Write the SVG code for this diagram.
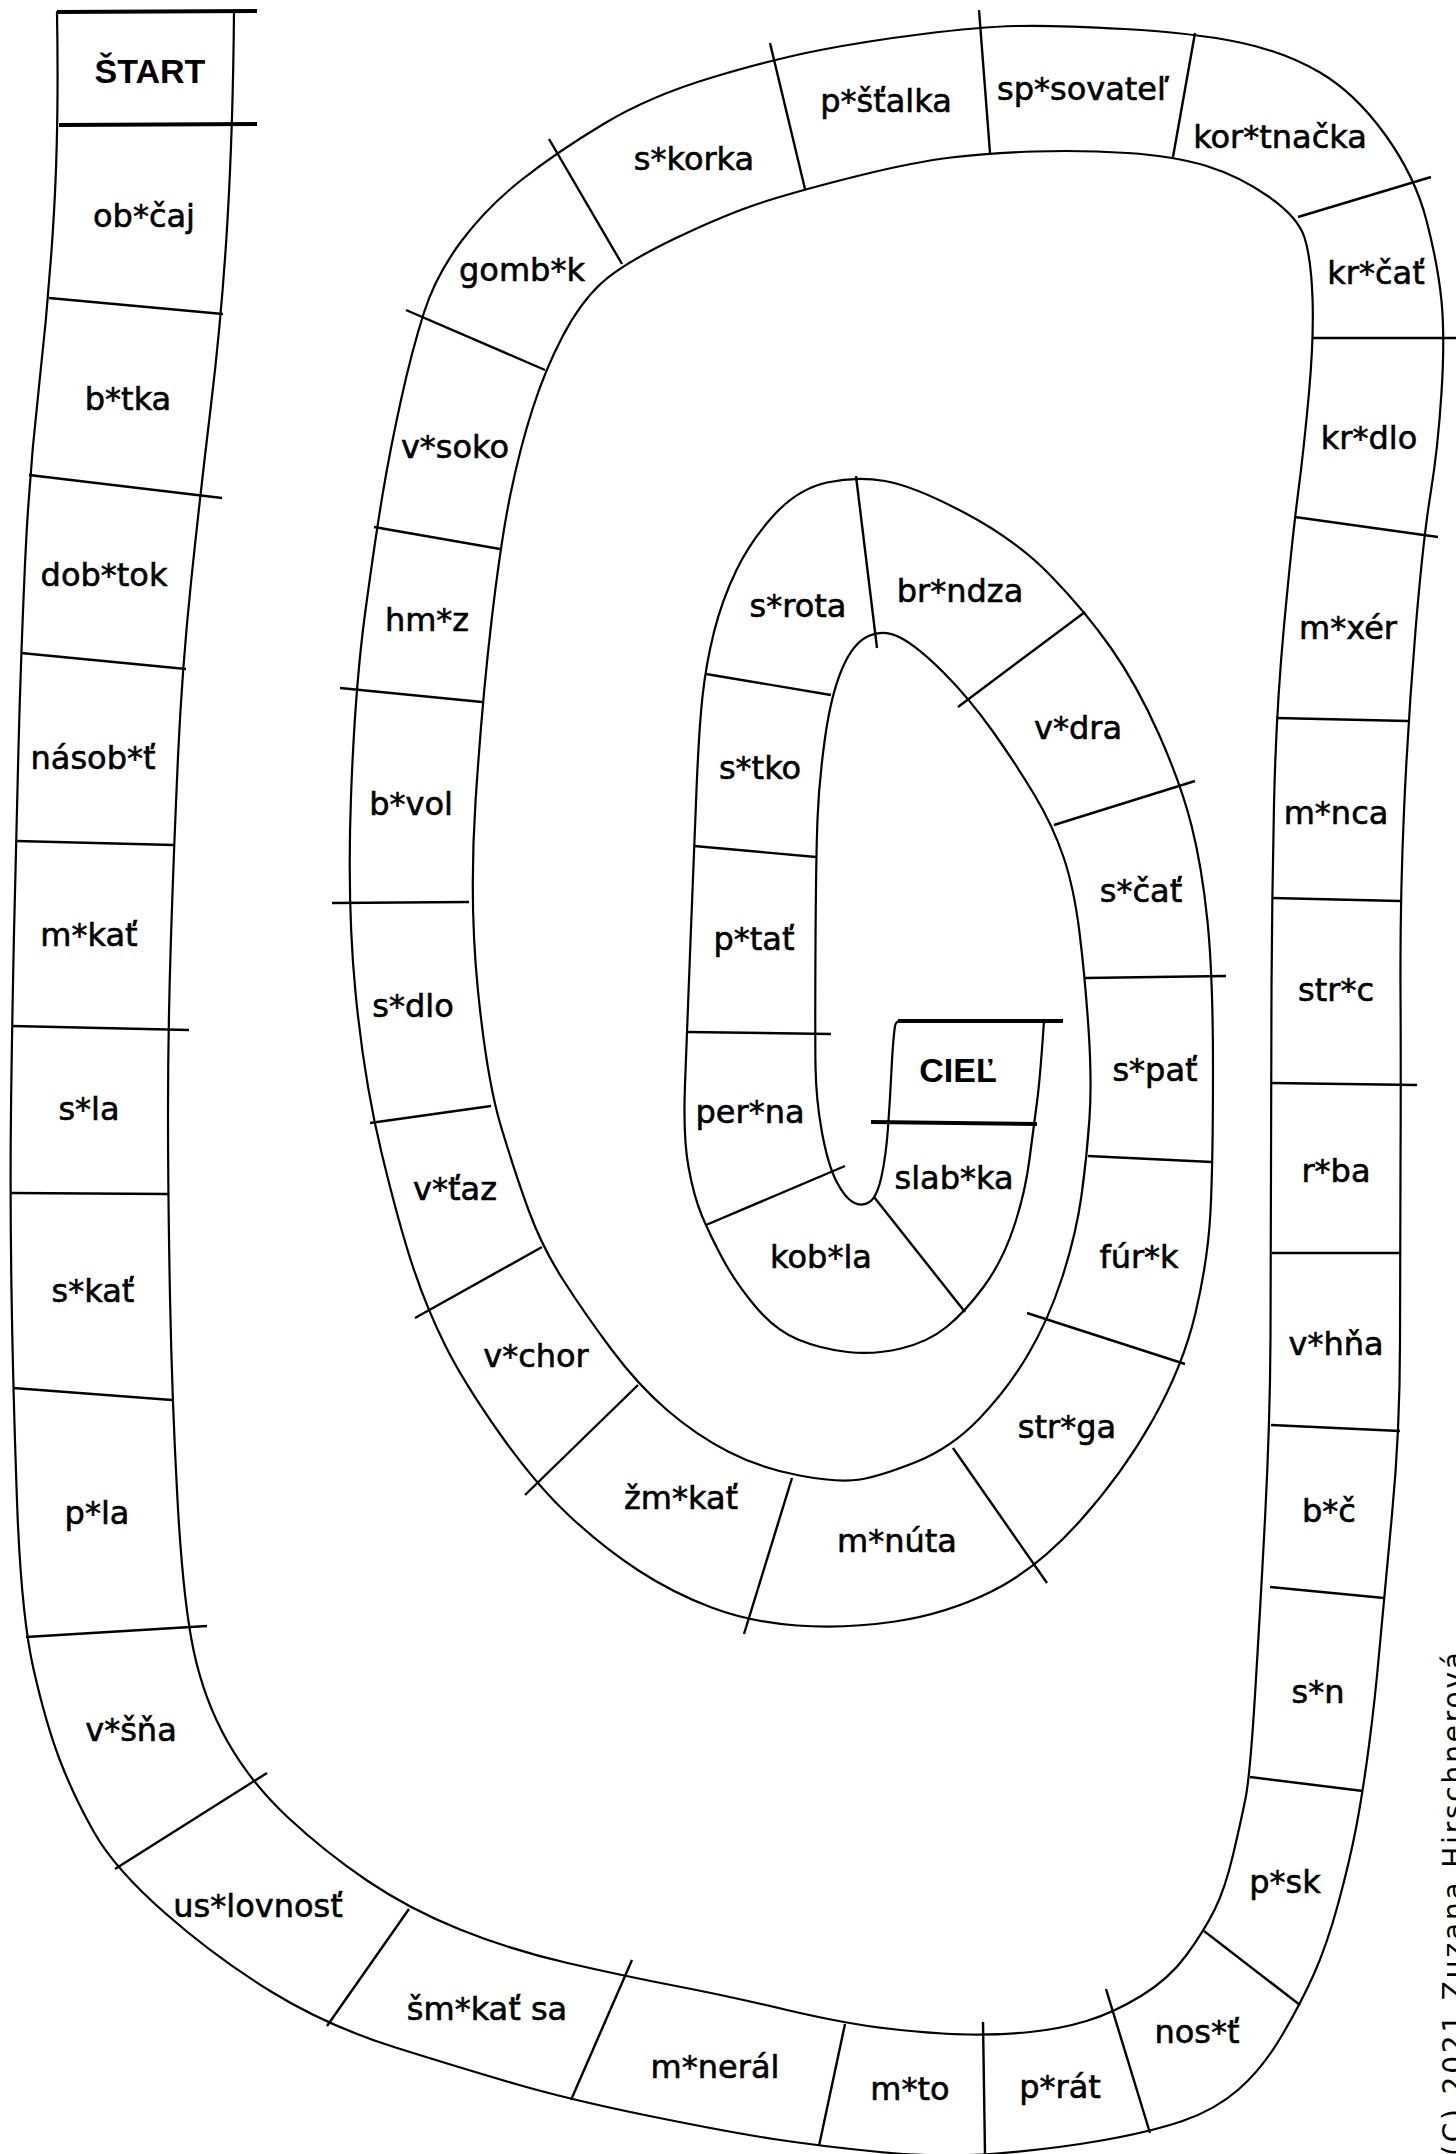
<svg xmlns="http://www.w3.org/2000/svg" width="1456" height="2154" viewBox="0 0 1456 2154">
<style>
.edge{fill:none;stroke:#000;stroke-width:2.2;stroke-linecap:round;stroke-linejoin:round}
.sep{fill:none;stroke:#000;stroke-width:2.4;stroke-linecap:butt}
.thick{fill:none;stroke:#000;stroke-width:4;stroke-linecap:butt}
.w{font-family:"DejaVu Sans","Liberation Sans",sans-serif;font-size:32px;fill:#000;stroke:#000;stroke-width:0.6;text-anchor:middle}
.b{font-family:"Liberation Sans","DejaVu Sans",sans-serif;font-size:34px;font-weight:bold;fill:#000;text-anchor:middle}
.c{font-family:"DejaVu Sans","Liberation Sans",sans-serif;font-size:28px;fill:#000}
</style>
<rect x="0" y="0" width="1456" height="2154" fill="#fff"/>
<g id="connectors">
<path id="outer-edge" class="edge" d="M57,12 Q59,126 54,212 Q49,298 39,386.5 Q29,475 25,564 Q21,653 18.5,747 Q16,841 14,933.5 Q12,1026 11,1110 Q10,1194 11.5,1291 Q13,1388 17,1501 Q21,1614 33.5,1669 Q46,1724 60,1760.5 Q74,1797 94.5,1833 Q115,1869 165,1913 Q215,1957 271,1991.5 Q327,2026 395.5,2047.5 Q464,2069 517.5,2084.5 Q571,2100 649.5,2116 Q728,2132 773.5,2139 Q819,2146 879.5,2152 Q940,2158 996.5,2153.5 Q1053,2149 1101.5,2140.5 Q1150,2132 1182.5,2121 Q1215,2110 1238.5,2089.5 Q1262,2069 1281,2037 Q1300,2005 1313.5,1975 Q1327,1945 1338.5,1902.5 Q1350,1860 1356.5,1825.5 Q1363,1791 1369,1745.5 Q1375,1700 1379.5,1649 Q1384,1598 1392,1514.5 Q1400,1431 1400,1342 Q1400,1253 1400.5,1166.5 Q1401,1080 1400.5,990.5 Q1400,901 1404,811 Q1408,721 1415.5,630.5 Q1423,540 1430.5,494 Q1438,448 1441.5,392.5 Q1445,337 1441.5,301 Q1438,265 1426.5,220.5 Q1415,176 1385,134.5 Q1355,93 1320,72.5 Q1285,52 1240,42.5 Q1195,33 1124,29 Q1053,25 1016,26 Q979,27 923,34 Q867,41 820.5,50 Q774,59 712,77.5 Q650,96 603.5,124 Q557,152 522,179.5 Q487,207 461.5,241 Q436,275 424,312.5 Q412,350 401,400 Q390,450 382.5,495 Q375,540 365,614 Q355,688 351,796.5 Q347,905 355.5,992.5 Q364,1080 381.5,1152.5 Q399,1225 413,1267 Q427,1309 445.5,1346 Q464,1383 500,1434 Q536,1485 570,1516.5 Q604,1548 638.5,1570.5 Q673,1593 711.5,1607.5 Q750,1622 797,1625.5 Q844,1629 895,1621.5 Q946,1614 991.5,1591.5 Q1037,1569 1080,1521 Q1123,1473 1153,1419.5 Q1183,1366 1195.5,1313 Q1208,1260 1210.5,1211.5 Q1213,1163 1213,1069.5 Q1213,976 1207.5,921.5 Q1202,867 1191.5,825.5 Q1181,784 1159,734.5 Q1137,685 1111,648 Q1085,611 1050.5,575.5 Q1016,540 965,513 Q914,486 885,481 Q856,476 827,482.5 Q798,489 774.5,514.5 Q751,540 736.5,570 Q722,600 714,632 Q706,664 702.5,696.5 Q699,729 696.5,789.5 Q694,850 690.5,941 Q687,1032 685,1084.5 Q683,1137 688.5,1167 Q694,1197 702,1216 Q710,1235 722.5,1258.5 Q735,1282 755,1306 Q775,1330 798,1339.5 Q821,1349 847.5,1352 Q874,1355 901,1348.5 Q928,1342 946.5,1327 Q965,1312 983.5,1287 Q1002,1262 1013.5,1228 Q1025,1194 1029.5,1159 Q1034,1124 1037,1102 Q1040,1080 1044,1021"/>
<path id="inner-edge" class="edge" d="M234,12 Q233,126 227.5,220 Q222,314 211,405 Q200,496 191,582.5 Q182,669 178,757 Q174,845 171,937 Q168,1029 168,1111.5 Q168,1194 170,1297 Q172,1400 177.5,1500 Q183,1600 193.5,1650 Q204,1700 227.5,1741.5 Q251,1783 288,1817.5 Q325,1852 367,1880.5 Q409,1909 460,1929.5 Q511,1950 567.5,1963 Q624,1976 676,1986 Q728,1996 787,2010 Q846,2024 891.5,2029 Q937,2034 968.5,2034.5 Q1000,2035 1030,2032 Q1060,2029 1086.5,2021 Q1113,2013 1141,1996 Q1169,1979 1186.5,1955 Q1204,1931 1214.5,1910 Q1225,1889 1233,1855 Q1241,1821 1245.5,1798.5 Q1250,1776 1255,1695 Q1260,1614 1265,1519 Q1270,1424 1270.5,1338 Q1271,1252 1271,1166 Q1271,1080 1271.5,989 Q1272,898 1274,805 Q1276,712 1284,626 Q1292,540 1298,494 Q1304,448 1309,392.5 Q1314,337 1312.5,297.5 Q1311,258 1304.5,237.5 Q1298,217 1268.5,196.5 Q1239,176 1206.5,166 Q1174,156 1127.5,153 Q1081,150 1034.5,151.5 Q988,153 951,157.5 Q914,162 859.5,175.5 Q805,189 766.5,201 Q728,213 675,238.5 Q622,264 601,283.5 Q580,303 562.5,336.5 Q545,370 532.5,409 Q520,448 510.5,494 Q501,540 491.5,621 Q482,702 475.5,802 Q469,902 478,991 Q487,1080 501,1126.5 Q515,1173 528.5,1210 Q542,1247 563.5,1280.5 Q585,1314 611.5,1349.5 Q638,1385 667,1410 Q696,1435 728,1451.5 Q760,1468 799.5,1475.5 Q839,1483 860,1479.5 Q881,1476 916,1462 Q951,1448 979,1419 Q1007,1390 1027.5,1355.5 Q1048,1321 1062,1278 Q1076,1235 1081.5,1195.5 Q1087,1156 1089.5,1118 Q1092,1080 1088.5,1028.5 Q1085,977 1079.5,932.5 Q1074,888 1063.5,857 Q1053,826 1034.5,795 Q1016,764 992.5,731 Q969,698 943.5,672.5 Q918,647 901,638 Q884,629 868.5,636 Q853,643 842,669 Q831,695 825,738 Q819,781 817.5,819 Q816,857 815.5,944.5 Q815,1032 815.5,1066 Q816,1100 822,1132.5 Q828,1165 836.5,1181.5 Q845,1198 853.5,1202.5 Q862,1207 869.5,1202 Q877,1197 881.5,1176.5 Q886,1156 888,1128 Q890,1100 891.5,1070 Q893,1040 895,1026 Q896,1021 900,1021"/>
<line class="thick" x1="57" y1="12" x2="257" y2="11"/>
<line class="thick" x1="59" y1="125" x2="257" y2="124"/>
<line class="sep" x1="49" y1="298" x2="223" y2="314"/>
<line class="sep" x1="29" y1="475" x2="222" y2="498"/>
<line class="sep" x1="21" y1="653" x2="186" y2="669"/>
<line class="sep" x1="16" y1="841" x2="174" y2="845"/>
<line class="sep" x1="12" y1="1026" x2="189" y2="1030"/>
<line class="sep" x1="10" y1="1193" x2="168" y2="1194"/>
<line class="sep" x1="13" y1="1388" x2="172" y2="1400"/>
<line class="sep" x1="26" y1="1637" x2="207" y2="1626"/>
<line class="sep" x1="267" y1="1773" x2="115" y2="1869"/>
<line class="sep" x1="409" y1="1909" x2="327" y2="2026"/>
<line class="sep" x1="632" y1="1960" x2="571" y2="2100"/>
<line class="sep" x1="845" y1="2024" x2="819" y2="2146"/>
<line class="sep" x1="983" y1="2022" x2="985" y2="2154"/>
<line class="sep" x1="1106" y1="1989" x2="1150" y2="2133"/>
<line class="sep" x1="1204" y1="1931" x2="1300" y2="2005"/>
<line class="sep" x1="1250" y1="1777" x2="1363" y2="1791"/>
<line class="sep" x1="1270" y1="1587" x2="1384" y2="1598"/>
<line class="sep" x1="1271" y1="1425" x2="1400" y2="1431"/>
<line class="sep" x1="1272" y1="1253" x2="1400" y2="1253"/>
<line class="sep" x1="1271" y1="1083" x2="1417" y2="1085"/>
<line class="sep" x1="1272" y1="898" x2="1400" y2="901"/>
<line class="sep" x1="1276" y1="718" x2="1408" y2="721"/>
<line class="sep" x1="1295" y1="517" x2="1438" y2="537"/>
<line class="sep" x1="1312" y1="338" x2="1456" y2="338"/>
<line class="sep" x1="1298" y1="217" x2="1431" y2="177"/>
<line class="sep" x1="1195" y1="33" x2="1173" y2="157"/>
<line class="sep" x1="979" y1="10" x2="990" y2="153"/>
<line class="sep" x1="770" y1="43" x2="805" y2="189"/>
<line class="sep" x1="549" y1="139" x2="622" y2="264"/>
<line class="sep" x1="406" y1="310" x2="545" y2="370"/>
<line class="sep" x1="374" y1="527" x2="500" y2="549"/>
<line class="sep" x1="340" y1="688" x2="482" y2="702"/>
<line class="sep" x1="332" y1="903" x2="469" y2="902"/>
<line class="sep" x1="370" y1="1123" x2="491" y2="1106"/>
<line class="sep" x1="415" y1="1318" x2="542" y2="1247"/>
<line class="sep" x1="525" y1="1495" x2="638" y2="1385"/>
<line class="sep" x1="792" y1="1478" x2="744" y2="1634"/>
<line class="sep" x1="953" y1="1448" x2="1047" y2="1583"/>
<line class="sep" x1="1027" y1="1313" x2="1185" y2="1364"/>
<line class="sep" x1="1088" y1="1156" x2="1212" y2="1162"/>
<line class="sep" x1="1085" y1="978" x2="1226" y2="976"/>
<line class="sep" x1="1054" y1="825" x2="1195" y2="781"/>
<line class="sep" x1="958" y1="707" x2="1085" y2="612"/>
<line class="sep" x1="856" y1="476" x2="877" y2="648"/>
<line class="sep" x1="706" y1="674" x2="831" y2="695"/>
<line class="sep" x1="694" y1="846" x2="816" y2="857"/>
<line class="sep" x1="687" y1="1032" x2="831" y2="1034"/>
<line class="sep" x1="706" y1="1225" x2="845" y2="1166"/>
<line class="sep" x1="874" y1="1197" x2="965" y2="1312"/>
<line class="thick" x1="871" y1="1122" x2="1037" y2="1124"/>
<line class="thick" x1="898" y1="1021" x2="1063" y2="1021"/>
</g>
<g id="n-start"><text class="b" x="150" y="83">ŠTART</text></g>
<g id="n01"><text class="w" x="144" y="227">ob*čaj</text></g>
<g id="n02"><text class="w" x="128" y="410">b*tka</text></g>
<g id="n03"><text class="w" x="104" y="586">dob*tok</text></g>
<g id="n04"><text class="w" x="93" y="769">násob*ť</text></g>
<g id="n05"><text class="w" x="89" y="946">m*kať</text></g>
<g id="n06"><text class="w" x="89" y="1120">s*la</text></g>
<g id="n07"><text class="w" x="93" y="1302">s*kať</text></g>
<g id="n08"><text class="w" x="97" y="1524">p*la</text></g>
<g id="n09"><text class="w" x="131" y="1741">v*šňa</text></g>
<g id="n10"><text class="w" x="258" y="1917">us*lovnosť</text></g>
<g id="n11"><text class="w" x="487" y="2020">šm*kať sa</text></g>
<g id="n12"><text class="w" x="715" y="2078">m*nerál</text></g>
<g id="n13"><text class="w" x="910" y="2100">m*to</text></g>
<g id="n14"><text class="w" x="1060" y="2098">p*rát</text></g>
<g id="n15"><text class="w" x="1197" y="2043">nos*ť</text></g>
<g id="n16"><text class="w" x="1285" y="1893">p*sk</text></g>
<g id="n17"><text class="w" x="1318" y="1703">s*n</text></g>
<g id="n18"><text class="w" x="1329" y="1522">b*č</text></g>
<g id="n19"><text class="w" x="1336" y="1355">v*hňa</text></g>
<g id="n20"><text class="w" x="1336" y="1182">r*ba</text></g>
<g id="n21"><text class="w" x="1336" y="1001">str*c</text></g>
<g id="n22"><text class="w" x="1336" y="824">m*nca</text></g>
<g id="n23"><text class="w" x="1348" y="639">m*xér</text></g>
<g id="n24"><text class="w" x="1369" y="449">kr*dlo</text></g>
<g id="n25"><text class="w" x="1376" y="284">kr*čať</text></g>
<g id="n26"><text class="w" x="1280" y="148">kor*tnačka</text></g>
<g id="n27"><text class="w" x="1083" y="100">sp*sovateľ</text></g>
<g id="n28"><text class="w" x="886" y="112">p*šťalka</text></g>
<g id="n29"><text class="w" x="694" y="170">s*korka</text></g>
<g id="n30"><text class="w" x="522" y="281">gomb*k</text></g>
<g id="n31"><text class="w" x="455" y="458">v*soko</text></g>
<g id="n32"><text class="w" x="427" y="631">hm*z</text></g>
<g id="n33"><text class="w" x="411" y="815">b*vol</text></g>
<g id="n34"><text class="w" x="413" y="1017">s*dlo</text></g>
<g id="n35"><text class="w" x="455" y="1200">v*ťaz</text></g>
<g id="n36"><text class="w" x="536" y="1367">v*chor</text></g>
<g id="n37"><text class="w" x="681" y="1509">žm*kať</text></g>
<g id="n38"><text class="w" x="897" y="1552">m*núta</text></g>
<g id="n39"><text class="w" x="1067" y="1438">str*ga</text></g>
<g id="n40"><text class="w" x="1139" y="1268">fúr*k</text></g>
<g id="n41"><text class="w" x="1155" y="1081">s*pať</text></g>
<g id="n42"><text class="w" x="1141" y="902">s*čať</text></g>
<g id="n43"><text class="w" x="1078" y="739">v*dra</text></g>
<g id="n44"><text class="w" x="960" y="602">br*ndza</text></g>
<g id="n45"><text class="w" x="798" y="617">s*rota</text></g>
<g id="n46"><text class="w" x="760" y="779">s*tko</text></g>
<g id="n47"><text class="w" x="754" y="950">p*tať</text></g>
<g id="n48"><text class="w" x="750" y="1123">per*na</text></g>
<g id="n49"><text class="w" x="821" y="1268">kob*la</text></g>
<g id="n50"><text class="w" x="954" y="1189">slab*ka</text></g>
<g id="n-ciel"><text class="b" x="958" y="1082">CIEĽ</text></g>
<text class="c" x="1463" y="2156" transform="rotate(-90 1463 2156)" textLength="504" lengthAdjust="spacing">(C) 2021  Zuzana Hirschnerová</text>
</svg>
